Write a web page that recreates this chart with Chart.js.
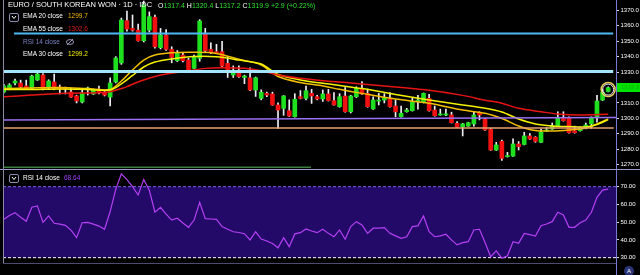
<!DOCTYPE html>
<html>
<head>
<meta charset="utf-8">
<script src="https://cdn.jsdelivr.net/npm/chart.js@4.4.1/dist/chart.umd.min.js"></script>
<style>
html, body { margin: 0; padding: 0; background: #000; }
#wrap { position: relative; width: 640px; height: 275px; overflow: hidden; background: #000; font-family: "Liberation Sans", Arial, sans-serif; }
#priceBox { position: absolute; left: 0; top: 0; width: 640px; height: 169px; }
#rsiBox { position: absolute; left: 0; top: 170px; width: 640px; height: 105px; }
.line { position: absolute; }
.txt { position: absolute; white-space: nowrap; line-height: 1; }
.chev { position: absolute; width: 8px; height: 7px; border: 1px solid #8c8cb4; border-radius: 2px; }
</style>
</head>
<body>
<div id="wrap">
  <div id="priceBox"><canvas id="priceChart"></canvas></div>
  <div id="rsiBox"><canvas id="rsiChart"></canvas></div>

  <div class="line" style="left:0;top:169px;width:640px;height:1px;background:#9c9cc8"></div>
  <div class="line" style="left:3px;top:0;width:1px;height:263px;background:#8a8aa0"></div>
  <div class="line" style="left:616px;top:263px;width:1px;height:12px;background:#7878d8"></div>

  <!-- cabecera -->
  <div class="txt" style="left:8px;top:1px;font-size:7.5px;color:#fff">EURO / SOUTH KOREAN WON · 1D · IDC</div>
  <div class="txt" style="left:158px;top:1.5px;font-size:7px;color:#2ee02e">
    <span style="color:#fff">O</span>1317.4 <span style="color:#fff">H</span>1320.4 <span style="color:#fff">L</span>1317.2 <span style="color:#fff">C</span>1319.9 +2.9 (+0.22%)
  </div>

  <!-- leyenda de indicadores -->
  <div class="chev" style="left:9px;top:13px"><svg width="8" height="7" style="display:block"><polyline points="2,2 4,4.5 6,2" fill="none" stroke="#fff" stroke-width="1"/></svg></div>
  <div class="txt" style="left:23px;top:13px;font-size:6.5px;color:#fff">EMA 20 close</div>
  <div class="txt" style="left:68px;top:13px;font-size:6.5px;color:#f2b400">1299.7</div>
  <div class="txt" style="left:23px;top:26px;font-size:6.5px;color:#fff">EMA 55 close</div>
  <div class="txt" style="left:68px;top:26px;font-size:6.5px;color:#d42020">1302.6</div>
  <div class="txt" style="left:23px;top:38.5px;font-size:6.5px;color:#7c84c8">RSI 14 close</div>
  <svg class="txt" style="left:65px;top:38px" width="10" height="8"><ellipse cx="5" cy="4" rx="3.6" ry="2.4" fill="none" stroke="#a8a8d0" stroke-width="0.9"/><line x1="2" y1="7" x2="8" y2="1" stroke="#a8a8d0" stroke-width="0.9"/></svg>
  <div class="txt" style="left:23px;top:51px;font-size:6.5px;color:#fff">EMA 30 close</div>
  <div class="txt" style="left:68px;top:51px;font-size:6.5px;color:#f4f000">1299.2</div>

  <div class="chev" style="left:9px;top:174px"><svg width="8" height="7" style="display:block"><polyline points="2,2 4,4.5 6,2" fill="none" stroke="#fff" stroke-width="1"/></svg></div>
  <div class="txt" style="left:23px;top:175px;font-size:6.5px;color:#fff">RSI 14 close</div>
  <div class="txt" style="left:64px;top:175px;font-size:6.5px;color:#a040ff">68.64</div>

  <div class="txt" style="left:624px;top:266px;width:10px;height:10px;border-radius:5px;background:#2c3478;color:#fff;font-size:6px;text-align:center;line-height:10px">A</div>
</div>

<script>
// velas diarias, 5 jul - 4 dic (índice = día hábil)
const opens = [1317.1,1319.0,1322.9,1322.9,1321.0,1319.7,1324.9,1328.1,1319.7,1323.6,1320.3,1319.7,1317.1,1314.5,1310.6,1319.0,1315.8,1319.0,1317.1,
  1313.8,1323.6,1335.9,1363.3,1358.3,1357.2,1350.3,1357.2,1365.5,1345.8,1354.0,1344.7,1337.4,1341.0,1337.8,1332.4,1338.9,1354.7,1344.7,1343.2,1343.2,1335.7,
  1328.1,1331.3,1326.5,1326.3,1318.4,1313.0,1316.2,1315.8,1308.7,1306.5,1305.0,1301.1,1314.0,1313.0,1316.2,1314.0,1312.6,1315.8,1311.5,1307.6,1314.5,
  1304.3,1314.0,1319.5,1316.2,1306.1,1311.2,1311.9,1312.6,1308.0,1301.1,1304.3,1305.0,1311.2,1310.2,1313.0,1305.4,1302.2,1302.2,1302.2,1296.8,1294.6,1295.0,1296.4,
  1303.7,1299.4,1292.9,1279.5,1285.1,1275.2,1275.6,1283.4,1283.1,1288.6,1287.8,1284.5,1291.8,1293.1,1295.3,1300.1,1300.1,1292.0,1292.0,1293.5,1296.4,
  1301.1,1311.9,1317.4];
const highs = [1322.0,1322.5,1325.5,1324.8,1324.8,1328.0,1330.0,1329.0,1325.0,1328.7,1321.6,1320.3,1319.7,1315.0,1318.4,1320.3,1319.0,1321.0,1318.0,
  1326.2,1340.0,1365.0,1369.5,1367.0,1361.1,1376.0,1369.0,1367.0,1358.3,1357.6,1346.4,1344.0,1342.5,1339.0,1341.0,1364.0,1358.3,1349.0,1348.0,1350.0,1340.0,
  1334.0,1334.0,1328.0,1332.7,1326.8,1318.5,1317.0,1317.0,1310.0,1314.8,1312.0,1316.0,1318.0,1321.0,1318.8,1315.0,1318.4,1318.8,1316.7,1316.0,1320.0,
  1315.0,1320.5,1323.8,1319.0,1314.0,1316.2,1316.0,1316.7,1312.0,1308.0,1306.5,1313.0,1315.0,1316.5,1315.5,1308.0,1306.0,1306.0,1304.0,1298.0,1296.8,1297.5,1304.3,
  1304.3,1300.0,1293.5,1284.5,1286.0,1278.0,1286.8,1285.0,1291.0,1290.2,1288.2,1293.0,1294.0,1297.0,1304.3,1304.3,1301.0,1295.0,1294.5,1297.0,1301.0,
  1315.0,1318.8,1320.4];
const lows = [1316.5,1318.5,1321.6,1320.0,1318.8,1319.0,1324.5,1318.5,1319.0,1318.5,1315.8,1315.8,1313.5,1310.0,1310.0,1315.1,1315.5,1315.8,1314.5,
  1308.0,1323.0,1335.0,1356.5,1356.5,1350.0,1349.5,1356.0,1345.5,1345.0,1344.0,1336.0,1336.8,1336.5,1331.0,1332.0,1337.0,1343.0,1342.0,1342.0,1333.5,1326.5,
  1326.5,1326.5,1322.5,1318.0,1314.2,1312.0,1314.0,1308.5,1293.5,1302.0,1301.2,1300.8,1312.6,1312.0,1309.7,1312.0,1311.0,1311.2,1308.5,1307.2,1304.0,
  1303.5,1313.5,1315.5,1307.2,1305.8,1308.7,1310.0,1307.2,1301.0,1300.8,1304.0,1304.7,1306.0,1310.0,1304.7,1301.4,1302.0,1301.7,1297.0,1294.0,1288.6,1294.8,1295.0,
  1299.0,1292.2,1279.2,1279.2,1272.7,1274.9,1275.3,1279.5,1282.8,1286.3,1284.5,1284.2,1291.5,1292.8,1295.0,1298.2,1290.4,1290.4,1291.7,1293.2,1293.5,
  1297.5,1311.5,1317.2];
const closes = [1321.0,1321.6,1324.2,1320.3,1319.0,1327.4,1328.7,1319.0,1324.2,1319.0,1319.0,1319.0,1313.8,1311.3,1316.4,1319.3,1318.4,1317.1,1315.1,
  1322.9,1339.1,1363.7,1357.9,1357.2,1350.3,1373.5,1365.9,1346.4,1354.0,1344.7,1339.5,1342.1,1337.4,1331.3,1340.0,1363.1,1343.8,1342.5,1342.5,1333.9,1331.3,
  1330.9,1327.0,1327.4,1318.4,1326.3,1316.9,1315.1,1308.7,1305.4,1314.5,1301.5,1312.4,1313.0,1317.9,1314.5,1312.6,1315.8,1311.5,1308.7,1314.0,1304.3,
  1314.5,1319.5,1315.8,1307.6,1311.9,1311.9,1313.4,1307.6,1304.3,1303.3,1305.4,1310.8,1311.3,1316.2,1305.0,1301.7,1302.5,1302.9,1297.2,1294.2,1296.4,1297.2,1302.2,
  1302.2,1292.5,1279.5,1282.8,1274.1,1275.8,1283.4,1281.7,1288.6,1286.6,1285.1,1291.1,1292.5,1295.3,1300.7,1298.5,1290.7,1290.7,1294.2,1295.7,1300.7,
  1311.2,1316.9,1319.9];

// medias móviles (índice de vela, valor)
const ema55Idx = [0,5,11,17,19,21,22,24,28,33,36,39,43,46,49,53,57,63,70,76,82,86,89,92,96,99,103,108];
const ema55 = [1314.0,1315.1,1316.2,1316.6,1317.3,1319.3,1320.6,1323.6,1328.1,1330.7,1332.4,1332.8,1332.4,1330.9,1328.1,1326.0,1324.4,1322.6,1320.3,1318.2,1314.9,1311.8,1309.8,1306.5,1304.3,1302.8,1302.2,1302.6];
const emaYIdx = [0,5,10,15,19,21,23,25,27,30,34,38,42,46,49,53,57,60,64,70,76,82,86,89,92,95,98,101,104,106,108];
const ema20 = [1319.3,1319.7,1320.0,1319.3,1318.7,1324.2,1331.3,1337.8,1341.0,1342.5,1342.8,1342.1,1338.3,1334.6,1327.1,1323.2,1321.0,1318.8,1316.2,1312.5,1309.8,1305.4,1303.3,1299.9,1295.1,1292.1,1291.8,1292.5,1293.8,1296.4,1299.7];
const ema30 = [1318.7,1318.7,1319.0,1318.7,1318.4,1322.3,1327.8,1333.3,1336.5,1338.5,1340.1,1339.9,1337.8,1335.2,1328.4,1324.9,1322.7,1321.3,1319.3,1315.5,1311.9,1308.7,1306.5,1304.1,1299.6,1296.4,1295.1,1294.7,1294.4,1296.0,1299.2];

// RSI 14 por vela
const rsi = [51.6,53.8,55.4,52.8,50.5,58.4,59.1,49.9,53.5,49.4,48.9,48.2,45.5,41.3,49.7,49.9,48.9,47.8,46.0,
  56.0,68.5,77.2,74.0,70.0,65.3,74.0,68.0,55.6,58.4,54.5,51.2,52.2,49.5,47.1,51.2,61.2,52.0,51.8,51.6,47.5,46.0,
  44.6,44.2,43.5,40.0,44.6,40.5,39.4,38.0,35.6,41.3,36.2,43.4,44.1,46.2,45.0,44.1,46.0,43.7,41.8,45.6,40.4,
  47.5,50.3,48.4,43.7,46.6,46.6,46.9,43.7,42.3,40.9,41.8,47.5,47.9,53.5,44.6,41.8,42.3,43.2,40.0,37.2,38.5,39.0,45.6,
  46.0,38.5,30.6,33.8,29.7,31.1,39.0,38.1,43.7,43.0,42.2,48.0,49.0,50.3,55.6,54.1,47.1,47.1,49.7,51.2,55.6,
  64.0,68.1,68.64];

// líneas horizontales dibujadas a mano en el gráfico
const hLevelStart = [1355.0, 1330.4, 1299.0, 1293.8, 1268.3];
const hLevelEnd   = [1355.0, 1330.4, 1300.6, 1293.8, 1268.3];
const hFrom = [1.8, -0.15, -0.15, -0.15, -0.15];
const hTo   = [108.9, 108.9, 109.4, 109.0, 54.9];
const hColors = ['#4cb8f4', '#a4e6ff', '#9a70f4', '#e8a070', '#3d7d3d'];
const hWidths = [2, 3, 1.5, 1.5, 1.5];

const priceTicks = [1370, 1360, 1350, 1340, 1330, 1320, 1310, 1300, 1290, 1280, 1270];
const rsiTicks = [70, 60, 50, 40, 30];
const xTickIdx = [6, 19, 31, 41, 51, 62, 71, 85, 96, 106];
const xTickLabels = ['15', 'Aug', '19', 'Sep', '16', 'Oct', '14', 'Nov', '18', 'Dec'];

const X_MIN = -0.15, X_MAX = 109.4;
const UP = '#1fe01f', DOWN = '#f01010', WICK = '#eeeef4';
const FONT = '"Liberation Sans", Arial, sans-serif';

const last = closes.length - 1;
const pts = (idx, vals) => idx.map((x, i) => ({ x, y: vals[i] }));

const lastPriceLabel = {
    id: 'lastPriceLabel',
    afterDraw(chart) {
        const { ctx, chartArea } = chart;
        const y = chart.scales.y.getPixelForValue(closes[last]);
        ctx.save();
        ctx.fillStyle = '#00e200';
        ctx.fillRect(chartArea.right + 1, Math.round(y) - 5, 24, 9);
        ctx.fillStyle = '#14b014';
        ctx.font = '6px ' + FONT;
        ctx.textBaseline = 'middle';
        ctx.fillText(closes[last].toFixed(1), chartArea.right + 5, Math.round(y) - 0.5);
        ctx.restore();
    }
};

const hLineSets = hLevelStart.map((v, k) => ({
    type: 'line',
    data: [{ x: hFrom[k], y: v }, { x: hTo[k], y: hLevelEnd[k] }],
    borderColor: hColors[k],
    borderWidth: hWidths[k],
    pointRadius: 0,
    order: 1
}));

const emaLine = (data, color) => ({
    type: 'line', data, borderColor: color, borderWidth: 1.5,
    pointRadius: 0, tension: 0.3, order: 2
});

new Chart(document.getElementById('priceChart'), {
    type: 'bar',
    data: {
        datasets: [
            {
                type: 'line',
                data: [{ x: last, y: (opens[last] + closes[last]) / 2 }],
                showLine: false, pointRadius: 7, pointBorderWidth: 1.5,
                pointBorderColor: '#e8cf60', pointBackgroundColor: 'rgba(0,0,0,0)', order: 0
            },
            {
                type: 'line',
                data: [{ x: last, y: (opens[last] + closes[last]) / 2 }],
                showLine: false, pointRadius: 5.5, pointBorderWidth: 1,
                pointBorderColor: '#ece4f4', pointBackgroundColor: 'rgba(0,0,0,0)', order: 0
            },
            ...hLineSets,
            emaLine(pts(ema55Idx, ema55), '#e81414'),
            emaLine(pts(emaYIdx, ema30), '#f4f200'),
            emaLine(pts(emaYIdx, ema20), '#f2c000'),
            {
                data: closes.map((c, i) => ({ x: i, y: [opens[i], c] })),
                backgroundColor: closes.map((c, i) => c >= opens[i] ? UP : DOWN),
                barThickness: 4, minBarLength: 1, grouped: false, order: 3
            },
            {
                data: closes.map((c, i) => ({ x: i, y: [lows[i], highs[i]] })),
                backgroundColor: WICK,
                barThickness: 1, minBarLength: 1, grouped: false, order: 4
            }
        ]
    },
    options: {
        responsive: true,
        maintainAspectRatio: false,
        animation: false,
        layout: { autoPadding: false, padding: { left: 3, right: 0, top: 0, bottom: 0 } },
        plugins: { legend: { display: false }, tooltip: { enabled: false } },
        scales: {
            x: { type: 'linear', min: X_MIN, max: X_MAX, offset: false, display: false },
            y: {
                position: 'right', min: 1267.2, max: 1376.7,
                afterBuildTicks: s => { s.ticks = priceTicks.map(v => ({ value: v })); },
                afterFit: s => { s.width = 24; s.paddingTop = 0; s.paddingBottom = 0; },
                grid: { drawOnChartArea: false, color: '#d8d8e8', tickLength: 3 },
                border: { color: '#7878d8' },
                ticks: { color: '#ffffff', padding: 1.5, font: { size: 6, family: FONT }, callback: v => v.toFixed(1) }
            }
        }
    },
    plugins: [lastPriceLabel]
});

const flat = (v) => [{ x: X_MIN, y: v }, { x: X_MAX, y: v }];

new Chart(document.getElementById('rsiChart'), {
    type: 'line',
    data: {
        datasets: [
            {
                data: rsi.map((v, i) => ({ x: i, y: v })),
                borderColor: '#b440f4', borderWidth: 1.2, pointRadius: 0, order: 0
            },
            {
                data: flat(rsiTicks[0]), borderColor: '#7a66e8', borderWidth: 1,
                borderDash: [3, 2], pointRadius: 0, order: 1
            },
            {
                data: flat(rsiTicks[rsiTicks.length - 1]), borderColor: '#ffffff', borderWidth: 1,
                borderDash: [3, 2], pointRadius: 0, order: 1
            },
            {
                data: flat(rsiTicks[0]), borderWidth: 0, borderColor: 'rgba(0,0,0,0)',
                fill: { value: rsiTicks[rsiTicks.length - 1] }, backgroundColor: '#240a68',
                pointRadius: 0, order: 2
            }
        ]
    },
    options: {
        responsive: true,
        maintainAspectRatio: false,
        animation: false,
        layout: { autoPadding: false, padding: { left: 3, right: 0, top: 0, bottom: 0 } },
        plugins: { legend: { display: false }, tooltip: { enabled: false } },
        scales: {
            x: {
                type: 'linear', min: X_MIN, max: X_MAX, offset: false,
                afterBuildTicks: s => { s.ticks = xTickIdx.map(v => ({ value: v })); },
                afterFit: s => { s.height = 12; s.paddingLeft = 0; s.paddingRight = 0; },
                grid: { display: false },
                border: { color: '#4c4c70' },
                ticks: {
                    color: '#ffffff', padding: 3, maxRotation: 0, autoSkip: false,
                    font: { size: 7, weight: 'bold', family: FONT },
                    callback: v => xTickLabels[xTickIdx.indexOf(v)]
                }
            },
            y: {
                position: 'right', min: 27.0, max: 79.4,
                afterBuildTicks: s => { s.ticks = rsiTicks.map(v => ({ value: v })); },
                afterFit: s => { s.width = 24; s.paddingTop = 0; s.paddingBottom = 0; },
                grid: { drawOnChartArea: false, color: '#d8d8e8', tickLength: 3 },
                border: { color: '#7878d8' },
                ticks: { color: '#ffffff', padding: 1.5, font: { size: 6, family: FONT }, callback: v => v.toFixed(2) }
            }
        }
    }
});
</script>
</body>
</html>
